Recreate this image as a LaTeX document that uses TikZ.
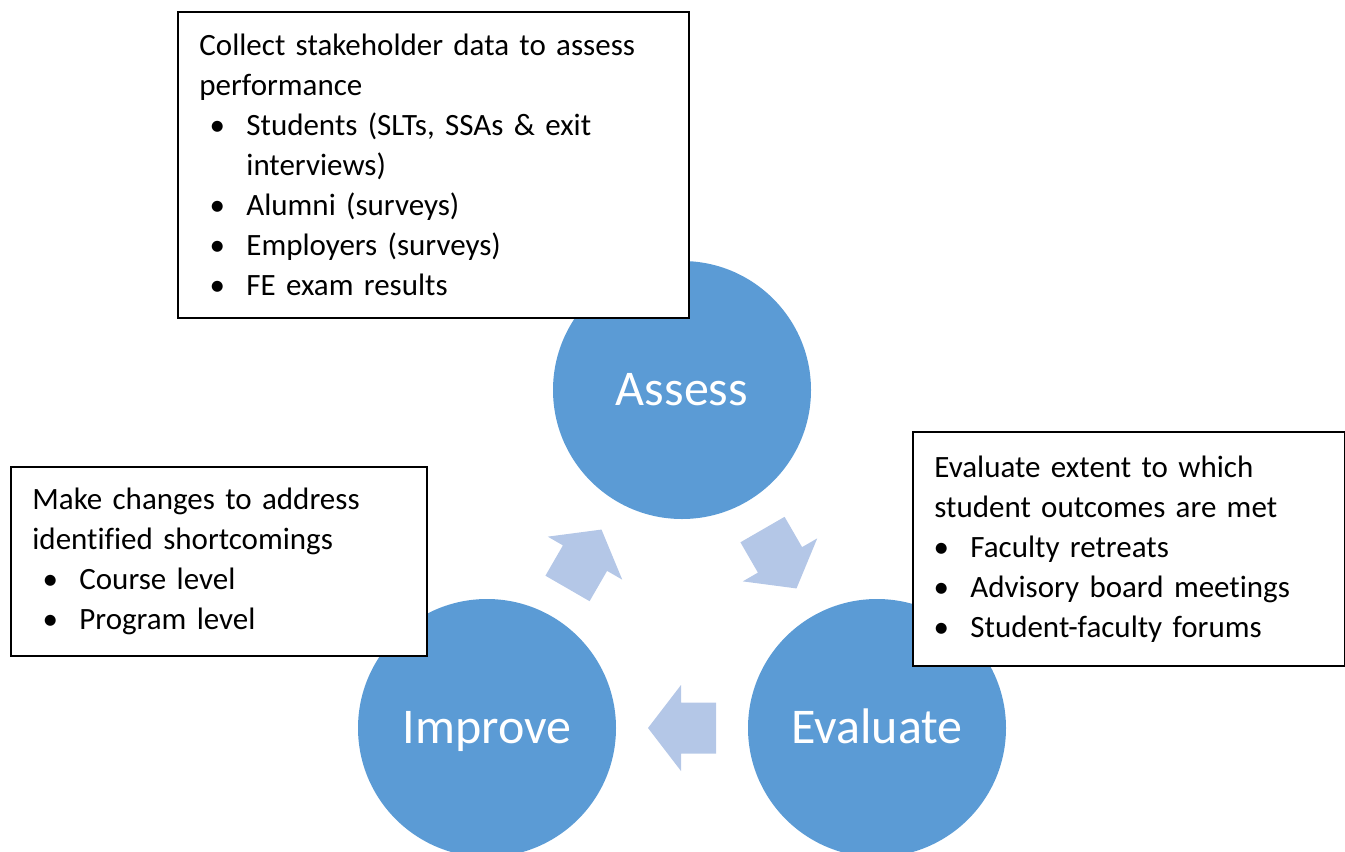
\documentclass[tikz,border=0pt]{standalone}
\usepackage{fontspec}
\setmainfont[Ligatures=CommonOff]{Carlito}
\usetikzlibrary{calc}
\definecolor{circblue}{HTML}{5B9BD5}
\definecolor{arrowblue}{HTML}{B4C7E7}
\newcommand{\bitem}[2]{\par\noindent\hspace*{#1}\llap{\makebox[58pt]{\textbullet}}#2}
\newcommand{\bcont}[2]{\par\noindent\hspace*{#1}#2}
\tikzset{
  stage/.style={circle, fill=circblue, minimum size=258pt, inner sep=0pt, text=white,
    font=\fontsize{50}{60}\selectfont, text height=31pt, text depth=0pt},
  notebox/.style={draw=black, line width=1.8pt, fill=white, anchor=north west, align=left,
    inner xsep=21.5pt, font=\fontsize{31}{40}\selectfont},
  pics/cyclearrow/.style={code={
    \fill[arrowblue] (-34,-25.5) -- (1,-25.5) -- (1,-43) -- (34,0) -- (1,43) -- (1,25.5) -- (-34,25.5) -- cycle;}}
}
\begin{document}
\begin{tikzpicture}[x=1pt, y=-1pt]
  \useasboundingbox (0,0) rectangle (1345,852);
  % the three stages
  \node[stage] (assess) at (682,390) {Assess};
  \node[stage] (improve) at (487,728) {Improve};
  \node[stage] (evaluate) at (877,728) {Evaluate};
  % cycle arrows
  \pic[rotate=60] at ($(improve)!0.5!(assess)$) {cyclearrow};
  \pic[rotate=-60] at ($(assess)!0.5!(evaluate)$) {cyclearrow};
  \pic[rotate=180] at ($(evaluate)!0.5!(improve)$) {cyclearrow};
  % notes
  \node[notebox, text width=468pt, minimum height=306pt] (assessnote) at (177,11) {%
    Collect stakeholder data to assess\\performance
    \bitem{47pt}{Students (SLTs, SSAs \& exit}
    \bcont{47pt}{interviews)}
    \bitem{47pt}{Alumni (surveys)}
    \bitem{47pt}{Employers (surveys)}
    \bitem{47pt}{FE exam results}};
  \node[notebox, text width=373pt, minimum height=189pt] (improvenote) at (10,466) {%
    Make changes to address\\identified shortcomings
    \bitem{47pt}{Course level}
    \bitem{47pt}{Program level}};
  \node[notebox, text width=389pt, minimum height=234pt] (evaluatenote) at (912,431) {%
    Evaluate extent to which\\student outcomes are met
    \bitem{36pt}{Faculty retreats}
    \bitem{36pt}{Advisory board meetings}
    \bitem{36pt}{Student-faculty forums}};
\end{tikzpicture}
\end{document}
